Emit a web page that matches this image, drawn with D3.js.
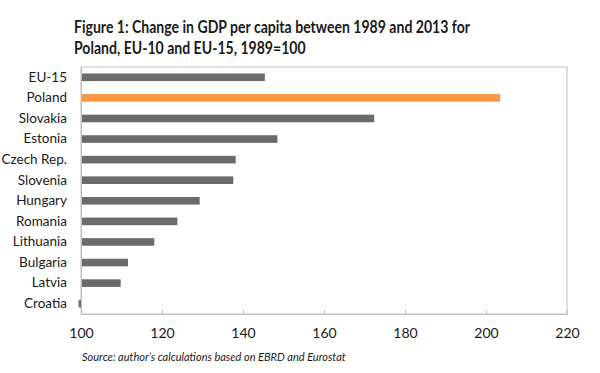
<!DOCTYPE html>
<html>
<head>
<meta charset="utf-8">
<script src="https://cdn.jsdelivr.net/npm/d3@7"></script>
<style>
  body { margin: 0; background: #fff; }
  svg { display: block; }
  svg text { font-family: Lato, "Open Sans", sans-serif; }
</style>
</head>
<body>
<svg id="chart" width="600" height="373"></svg>
<script>
// categories, top to bottom
const countries = ["EU-15", "Poland", "Slovakia", "Estonia", "Czech Rep.", "Slovenia",
  "Hungary", "Romania", "Lithuania", "Bulgaria", "Latvia", "Croatia"];
// GDP per capita 2013, 1989=100
const gdpIndex = [145.4, 203.5, 172.4, 148.5, 138.2, 137.6, 129.3, 123.8, 118.1, 111.6, 109.8, 99.4];
const xTicks = [100, 120, 140, 160, 180, 200, 220];
const titleLines = ["Figure 1: Change in GDP per capita between 1989 and 2013 for", "Poland, EU-10 and EU-15, 1989=100"];
const highlight = "Poland";

const svg = d3.select("#chart");
const margin = { top: 67, right: 33, bottom: 59, left: 81 };
const width = 600 - margin.left - margin.right;
const height = 373 - margin.top - margin.bottom;

const x = d3.scaleLinear().domain([100, 220]).range([0, width]);
const y = d3.scaleBand().domain(countries).range([0, height]).paddingInner(0.63).paddingOuter(0.315);

// title, squeezed a little so the first line spans the original width
const title = svg.append("text")
    .attr("font-weight", "bold")
    .attr("font-size", 16.5)
    .attr("fill", "#1a1a1a");
const tspans = title.selectAll("tspan").data(titleLines).join("tspan")
    .attr("x", 74)
    .attr("y", (d, i) => 33 + i * 20.5)
    .text(d => d);
const squeeze = 396 / tspans.node().getComputedTextLength();
tspans.each(function() {
    const w = this.getComputedTextLength();
    d3.select(this).attr("textLength", w * squeeze).attr("lengthAdjust", "spacingAndGlyphs");
});

const g = svg.append("g").attr("transform", `translate(${margin.left},${margin.top})`);

// plot frame
g.append("rect")
    .attr("x", 0).attr("y", 0)
    .attr("width", width).attr("height", height)
    .attr("fill", "none")
    .attr("stroke", "#bfbfbf");

// bars (Croatia below base draws leftwards)
g.selectAll("rect.bar").data(countries).join("rect")
    .attr("class", "bar")
    .attr("x", (d, i) => Math.min(x(gdpIndex[i]), x(100)))
    .attr("y", d => y(d))
    .attr("width", (d, i) => Math.abs(x(gdpIndex[i]) - x(100)))
    .attr("height", y.bandwidth())
    .attr("fill", d => d === highlight ? "#f79646" : "#6b6b6b");

// y axis labels
const yAxis = g.append("g").call(d3.axisLeft(y).tickSize(0).tickPadding(14));
yAxis.attr("font-family", null);
yAxis.select(".domain").attr("stroke", "#bfbfbf");
yAxis.selectAll("text").attr("font-size", 13.5).attr("fill", "#1a1a1a");

// x axis, tick marks pointing inward
const xAxis = g.append("g")
    .attr("transform", `translate(0,${height})`)
    .call(d3.axisBottom(x).tickValues(xTicks).tickSizeInner(-4).tickSizeOuter(0).tickPadding(14));
xAxis.attr("font-family", null);
xAxis.select(".domain").attr("stroke", "#bfbfbf");
xAxis.selectAll(".tick line").attr("stroke", "#bfbfbf");
xAxis.selectAll("text").attr("font-size", 14).attr("fill", "#1a1a1a");

// source note
svg.append("text")
    .attr("x", 82).attr("y", 361)
    .attr("font-size", 11)
    .attr("font-style", "italic")
    .attr("fill", "#1a1a1a")
    .text("Source: author\u2019s calculations based on EBRD and Eurostat");
</script>
</body>
</html>
